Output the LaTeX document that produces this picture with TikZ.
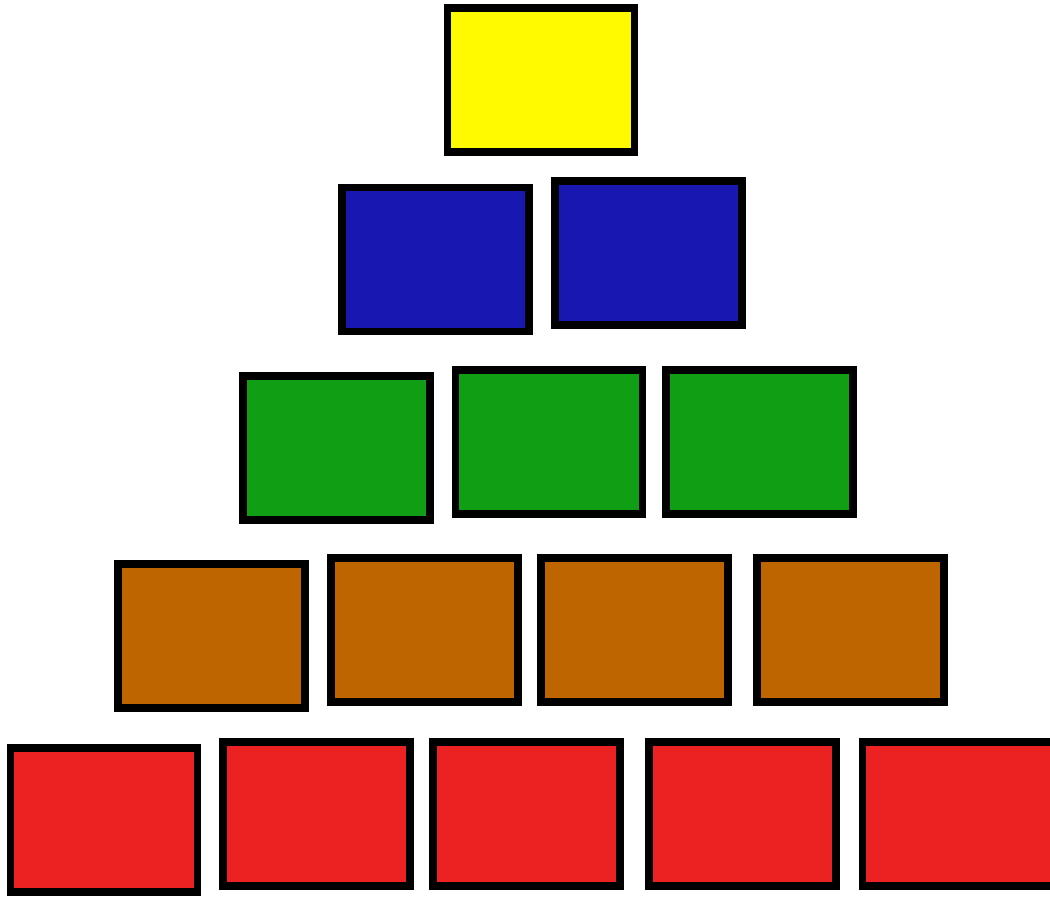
\documentclass[tikz,border=0pt]{standalone}
\definecolor{topyellow}{HTML}{FFFA00}
\definecolor{rowblue}{HTML}{1818B0}
\definecolor{rowgreen}{HTML}{109E14}
\definecolor{roworange}{HTML}{BF6500}
\definecolor{rowred}{HTML}{EC2222}
\tikzset{
  brick/.style={draw=black, line width=7.5pt, inner sep=0pt,
    minimum width=187pt, minimum height=144pt, rectangle}
}
\begin{document}
\begin{tikzpicture}[x=1pt, y=-1pt]
  \useasboundingbox (0,0) rectangle (1050,897);

  % Top
  \node[brick, fill=topyellow] (y1) at (541,80) {};

  % Second row
  \node[brick, fill=rowblue] (b1) at (435.5,259.5) {};
  \node[brick, fill=rowblue] (b2) at (648.5,253) {};

  % Third row
  \node[brick, fill=rowgreen] (g1) at (336.5,448) {};
  \node[brick, fill=rowgreen] (g2) at (549,442) {};
  \node[brick, fill=rowgreen] (g3) at (759.5,442) {};

  % Fourth row
  \node[brick, fill=roworange] (o1) at (211.5,636) {};
  \node[brick, fill=roworange] (o2) at (424.5,630) {};
  \node[brick, fill=roworange] (o3) at (634.5,630) {};
  \node[brick, fill=roworange] (o4) at (850.5,630) {};

  % Bottom row (last one runs off the edge)
  \node[brick, fill=rowred] (r1) at (104,820) {};
  \node[brick, fill=rowred] (r2) at (316.5,814) {};
  \node[brick, fill=rowred] (r3) at (526.5,814) {};
  \node[brick, fill=rowred] (r4) at (742.5,814) {};
  \node[brick, fill=rowred, minimum width=195pt] (r5) at (960,814) {};
\end{tikzpicture}
\end{document}
